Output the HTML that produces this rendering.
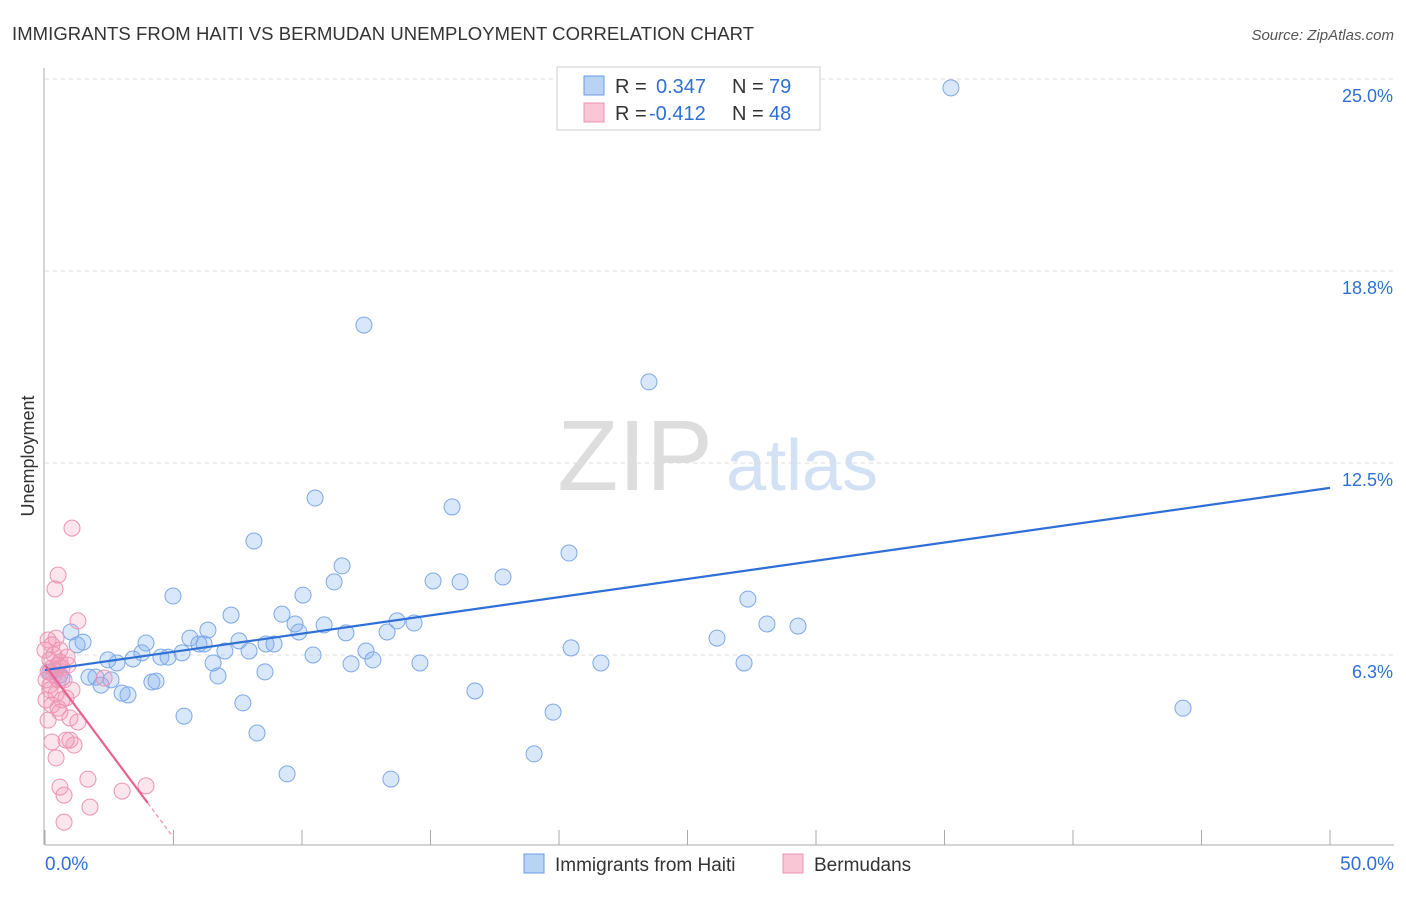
<!DOCTYPE html>
<html><head><meta charset="utf-8"><style>
body{margin:0;background:#fff;font-family:"Liberation Sans",sans-serif;}
svg text{font-family:"Liberation Sans",sans-serif;}
</style></head><body>
<svg id="c" width="1406" height="892" viewBox="0 0 1406 892">
<text x="12" y="40" font-size="18.5" fill="#333" textLength="742">IMMIGRANTS FROM HAITI VS BERMUDAN UNEMPLOYMENT CORRELATION CHART</text>
<text x="1394" y="40" font-size="15" fill="#555" font-style="italic" text-anchor="end">Source: ZipAtlas.com</text>
<g><text x="635" y="490" font-family="Liberation Serif" font-size="100" fill="#ddd" text-anchor="middle">ZIP</text><text x="802" y="490" font-size="72" fill="#d3e1f4" text-anchor="middle">atlas</text></g>
<text transform="translate(34,456) rotate(-90)" font-size="18" fill="#333" text-anchor="middle">Unemployment</text>
<g id="grid"></g><g id="pts"></g><g id="lines"></g>
<g>
<rect x="557" y="67" width="263" height="63" fill="#fff" stroke="#ccc"/>
<rect x="584" y="76" width="20" height="19" fill="#b9d3f5" stroke="#6b9be0"/>
<rect x="584" y="103" width="20" height="19" fill="#f9c6d6" stroke="#ec94b2"/>
<text x="615" y="93" font-size="20" fill="#333">R = <tspan x="656" fill="#2f6fd6">0.347</tspan><tspan x="732">N = </tspan><tspan x="769" fill="#2f6fd6">79</tspan></text>
<text x="615" y="120" font-size="20" fill="#333">R = <tspan x="649" fill="#2f6fd6">-0.412</tspan><tspan x="732">N = </tspan><tspan x="769" fill="#2f6fd6">48</tspan></text>
</g>
<g>
<rect x="524" y="854" width="20" height="19" fill="#b9d3f5" stroke="#6b9be0"/>
<text x="555" y="871" font-size="19" fill="#333">Immigrants from Haiti</text>
<rect x="783" y="854" width="20" height="19" fill="#f9c6d6" stroke="#ec94b2"/>
<text x="814" y="871" font-size="19" fill="#333">Bermudans</text>
</g>
<text x="45" y="870" font-size="19" fill="#2f6fd6">0.0%</text>
<text x="1394" y="870" font-size="19" fill="#2f6fd6" text-anchor="end">50.0%</text>
</svg>
<script>
const yTicks=[6.25,12.5,18.75,25];
const yTickLabels=["6.3%","12.5%","18.8%","25.0%"];
const haitiX=[35.25,12.41,23.50,10.51,15.84,8.13,20.39,11.56,11.25,15.10,16.15,17.82,4.98,10.04,27.35,7.24,9.22,13.70,14.36,28.09,29.30,9.73,10.86,6.34,9.88,11.71,13.31,26.15,1.01,1.48,5.64,7.55,1.25,3.93,5.99,6.19,8.60,8.91,12.49,7.00,7.94,3.77,5.33,10.43,20.47,2.45,4.51,4.79,3.42,2.80,6.54,11.91,12.76,14.59,21.63,27.20,8.56,6.73,1.71,1.98,2.57,4.16,4.32,2.18,3.00,3.23,16.73,7.70,19.77,5.41,44.28,8.25,19.03,9.42,13.46,0.39,0.58,0.66,0.19];
const haitiY=[24.71,16.99,15.14,11.36,11.07,9.96,9.57,9.15,8.63,8.66,8.63,8.79,8.17,8.20,8.07,7.55,7.58,7.36,7.29,7.26,7.19,7.26,7.23,7.06,7.00,6.97,7.00,6.80,7.00,6.67,6.80,6.71,6.58,6.64,6.61,6.61,6.61,6.61,6.38,6.38,6.38,6.32,6.32,6.25,6.48,6.09,6.18,6.18,6.12,5.99,5.99,5.96,6.09,5.99,5.99,5.99,5.70,5.57,5.53,5.53,5.44,5.37,5.40,5.27,5.01,4.95,5.08,4.69,4.39,4.26,4.52,3.71,3.03,2.38,2.21,5.76,5.60,5.50,5.70];
const bermX=[1.05,0.51,0.39,1.28,0.12,0.43,0.27,0.58,0.86,0.19,0.51,0.66,0.12,0.35,0.74,0.19,1.05,0.43,0.82,0.27,0.51,0.58,0.97,1.28,0.97,1.13,0.27,0.43,1.67,0.58,0.74,3.00,3.93,1.75,0.74,2.30,0.04,0.12,0.27,0.58,0.00,0.35,0.89,0.19,0.66,0.82,0.51,0.04];
const bermY=[10.38,8.85,8.40,7.36,6.74,6.80,6.58,6.41,6.18,6.09,5.92,5.83,5.70,5.60,5.44,5.27,5.11,4.98,4.85,4.62,4.52,4.39,4.20,4.07,3.48,3.32,3.42,2.90,2.21,1.95,1.69,1.82,1.99,1.30,0.81,5.50,4.79,4.13,5.83,6.02,6.41,6.25,5.92,5.11,4.79,3.48,5.44,5.44];
const haitiTrend=[[0,5.76],[50,11.69]];
const bermTrend=[[0,5.92],[4,1.43]];
const bermTrendExt=[4,5];
const X=v=>45+v*25.7, Y=v=>847-v*30.72;
const NS="http://www.w3.org/2000/svg";
function mk(t,a,p){const e=document.createElementNS(NS,t);for(const k in a)e.setAttribute(k,a[k]);p.appendChild(e);return e;}
const grid=document.getElementById('grid');
yTicks.forEach((t,i)=>{
 const l=mk('line',{x1:45,x2:1394,y1:Y(t),y2:Y(t),stroke:'#ddd','stroke-dasharray':'4,4'},grid);
 
 
 const tx=mk('text',{x:1393,y:Y(t)+23,'font-size':18,fill:'#2f6fd6','text-anchor':'end'},grid);
 tx.textContent=yTickLabels[i];
 
 
});
const ax=mk('line',{x1:45,x2:1394,y1:845,y2:845,stroke:'#aaa'},grid);


const ay=mk('line',{x1:44,x2:44,y1:68,y2:845,stroke:'#aaa'},grid);


for(let v=0;v<=50;v+=5){const t=mk('line',{x1:X(v),x2:X(v),y1:830,y2:845,stroke:'#aaa'},grid);
 
 }
const pts=document.getElementById('pts');
haitiX.forEach((x,i)=>{const c=mk('circle',{cx:X(x),cy:Y(haitiY[i]),r:8,fill:'rgba(130,175,240,0.3)',stroke:'#7ea8e6','stroke-width':1},pts);
 
 });
bermX.forEach((x,i)=>{const c=mk('circle',{cx:X(x),cy:Y(bermY[i]),r:8,fill:'rgba(245,150,185,0.25)',stroke:'#ec94b2','stroke-width':1},pts);
 
 });
const lines=document.getElementById('lines');
const hl=mk('line',{x1:X(haitiTrend[0][0]),y1:Y(haitiTrend[0][1]),x2:X(haitiTrend[1][0]),y2:Y(haitiTrend[1][1]),stroke:'#2f6fd6','stroke-width':2.2},lines);


const slope=(bermTrend[1][1]-bermTrend[0][1])/(bermTrend[1][0]-bermTrend[0][0]);
const bl=mk('line',{x1:X(bermTrend[0][0]),y1:Y(bermTrend[0][1]),x2:X(bermTrend[1][0]),y2:Y(bermTrend[1][1]),stroke:'#e8628f','stroke-width':2.2},lines);


const by=v=>bermTrend[0][1]+slope*v;
const bd=mk('line',{x1:X(bermTrendExt[0]),y1:Y(by(bermTrendExt[0])),x2:X(bermTrendExt[1]),y2:Y(by(bermTrendExt[1])),stroke:'#f0a0bb','stroke-width':1.5,'stroke-dasharray':'4,3'},lines);


</script>
</body></html>
